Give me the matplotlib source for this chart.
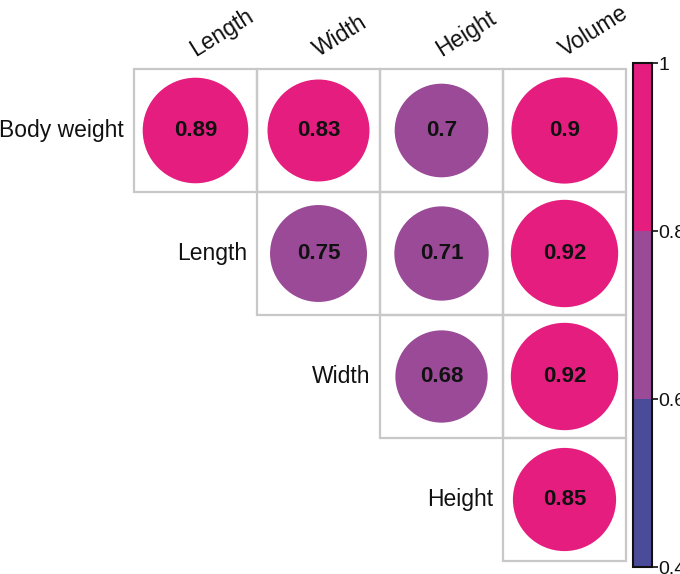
"""
corrplot-style upper triangle of body measurements
"""

import numpy as np
import matplotlib
matplotlib.use('Agg')
import matplotlib.pyplot as plt
from matplotlib.patches import Circle, Rectangle
from matplotlib.colors import ListedColormap, BoundaryNorm
from matplotlib.cm import ScalarMappable

plt.rcParams['font.family'] = ['Liberation Sans', 'DejaVu Sans']

row_labels = ['Body weight', 'Length', 'Width', 'Height']
col_labels = ['Length', 'Width', 'Height', 'Volume']
# upper triangle, nan = empty cell
corr = np.array([
    [0.89, 0.83, 0.70, 0.90],
    [np.nan, 0.75, 0.71, 0.92],
    [np.nan, np.nan, 0.68, 0.92],
    [np.nan, np.nan, np.nan, 0.85],
])
value_text = [
    ['0.89', '0.83', '0.7', '0.9'],
    ['', '0.75', '0.71', '0.92'],
    ['', '', '0.68', '0.92'],
    ['', '', '', '0.85'],
]
bounds = [0.4, 0.6, 0.8, 1.0]
bar_colors = ['#4A4C9A', '#9A4A97', '#E41D7F']
bar_ticklabels = ['0.4', '0.6', '0.8', '1']

cmap = ListedColormap(bar_colors)
norm = BoundaryNorm(bounds, cmap.N)

fig = plt.figure(figsize=(6.8, 5.74), dpi=100)
ax = fig.add_axes([134 / 680, 13 / 574, 492 / 680, 492 / 574])
ax.set_xlim(0, 4)
ax.set_ylim(0, 4)
ax.axis('off')

n = len(row_labels)
for r in range(n):
    for c in range(len(col_labels)):
        v = corr[r, c]
        if np.isnan(v):
            continue
        x0, y0 = c, n - 1 - r
        ax.add_patch(Rectangle((x0, y0), 1, 1, fill=False, ec='#C8C8C8',
                               lw=1.6, clip_on=False, zorder=1))
        ax.add_patch(Circle((x0 + 0.5, y0 + 0.5), 0.455 * np.sqrt(abs(v)),
                            color=cmap(norm(v)), lw=0, zorder=2))
        ax.text(x0 + 0.5, y0 + 0.5, value_text[r][c], ha='center',
                va='center', fontsize=16, fontweight='bold', color='#111111',
                zorder=3)

# row labels, left of the diagonal cell
for r, lab in enumerate(row_labels):
    ax.text(r - 0.08, n - 1 - r + 0.5, lab, ha='right', va='center',
            fontsize=16.5, color='#111111', clip_on=False)

# column labels, rotated on top
for c, lab in enumerate(col_labels):
    ax.text(c + 0.5, 4.1, lab, ha='left', va='baseline', rotation=32,
            rotation_mode='anchor', fontsize=16.5, color='#111111',
            clip_on=False)

cax = fig.add_axes([633 / 680, 7 / 574, 19 / 680, 504 / 574])
sm = ScalarMappable(norm=norm, cmap=cmap)
cb = fig.colorbar(sm, cax=cax, ticks=bounds)
cb.ax.set_yticklabels(bar_ticklabels)
cb.ax.tick_params(labelsize=14, length=4, width=1.2, pad=0.5, colors='#111111')
cb.outline.set_linewidth(1.5)
cb.outline.set_edgecolor('#111111')

fig.savefig('out.png', dpi=100)
